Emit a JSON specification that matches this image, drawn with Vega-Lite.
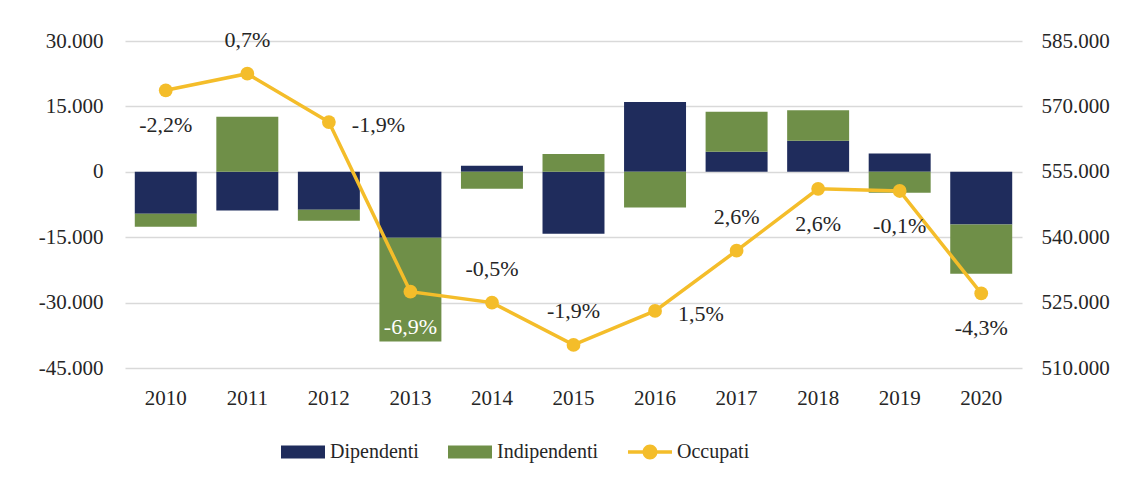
{
  "$schema": "https://vega.github.io/schema/vega-lite/v6.json",
  "width": 897,
  "height": 327,
  "autosize": "none",
  "padding": {"left": 125, "top": 41, "right": 114, "bottom": 117},
  "background": "white",
  "config": {
    "locale": {"number": {"decimal": ",", "thousands": ".", "grouping": [3], "currency": ["", " €"], "minus": "-"}},
    "font": "'Liberation Serif', 'Times New Roman', 'DejaVu Serif', serif",
    "view": {"stroke": null},
    "axis": {"labelFont": "'Liberation Serif', 'Times New Roman', 'DejaVu Serif', serif", "labelFontSize": 21, "labelColor": "#262626", "domain": false, "ticks": false, "title": null}
  },
  "datasets": {
    "bars": [
      {"year": "2010", "type": "Dipendenti", "value": -9600},
      {"year": "2010", "type": "Indipendenti", "value": -3000},
      {"year": "2011", "type": "Dipendenti", "value": -8900},
      {"year": "2011", "type": "Indipendenti", "value": 12600},
      {"year": "2012", "type": "Dipendenti", "value": -8700},
      {"year": "2012", "type": "Indipendenti", "value": -2500},
      {"year": "2013", "type": "Dipendenti", "value": -15100},
      {"year": "2013", "type": "Indipendenti", "value": -23800},
      {"year": "2014", "type": "Dipendenti", "value": 1400},
      {"year": "2014", "type": "Indipendenti", "value": -3900},
      {"year": "2015", "type": "Dipendenti", "value": -14200},
      {"year": "2015", "type": "Indipendenti", "value": 4100},
      {"year": "2016", "type": "Dipendenti", "value": 16000},
      {"year": "2016", "type": "Indipendenti", "value": -8200},
      {"year": "2017", "type": "Dipendenti", "value": 4600},
      {"year": "2017", "type": "Indipendenti", "value": 9200},
      {"year": "2018", "type": "Dipendenti", "value": 7100},
      {"year": "2018", "type": "Indipendenti", "value": 7000},
      {"year": "2019", "type": "Dipendenti", "value": 4200},
      {"year": "2019", "type": "Indipendenti", "value": -4800},
      {"year": "2020", "type": "Dipendenti", "value": -12100},
      {"year": "2020", "type": "Indipendenti", "value": -11300}
    ],
    "occ": [
      {"year": "2010", "occupati": 573700, "pct": "-2,2%"},
      {"year": "2011", "occupati": 577500, "pct": "0,7%"},
      {"year": "2012", "occupati": 566400, "pct": "-1,9%"},
      {"year": "2013", "occupati": 527500, "pct": "-6,9%"},
      {"year": "2014", "occupati": 525000, "pct": "-0,5%"},
      {"year": "2015", "occupati": 515300, "pct": "-1,9%"},
      {"year": "2016", "occupati": 523100, "pct": "1,5%"},
      {"year": "2017", "occupati": 536900, "pct": "2,6%"},
      {"year": "2018", "occupati": 551100, "pct": "2,6%"},
      {"year": "2019", "occupati": 550600, "pct": "-0,1%"},
      {"year": "2020", "occupati": 527100, "pct": "-4,3%"}
    ]
  },
  "encoding": {
    "x": {"field": "year", "type": "ordinal", "scale": {"paddingInner": 0.24, "paddingOuter": 0.12}, "axis": {"labelAngle": 0, "labelPadding": 19, "grid": false}}
  },
  "layer": [
    {
      "data": {"name": "bars"},
      "mark": {"type": "bar"},
      "encoding": {
        "y": {"field": "value", "type": "quantitative", "stack": "zero",
          "scale": {"domain": [-45000, 30000], "nice": false, "zero": false},
          "axis": {"orient": "left", "values": [-45000, -30000, -15000, 0, 15000, 30000], "format": ",.0f", "grid": true, "gridColor": "#D9D9D9", "gridWidth": 1.5, "labelPadding": 22}},
        "color": {"field": "type", "type": "nominal",
          "scale": {"domain": ["Dipendenti", "Indipendenti", "Occupati"], "range": ["#1F2C5C", "#6F8F48", "#F4BD2A"]},
          "legend": {
            "title": null, "orient": "none", "direction": "horizontal", "legendX": 156, "legendY": 389,
            "labelFont": "'Liberation Serif', 'Times New Roman', 'DejaVu Serif', serif", "labelFontSize": 20, "labelColor": "#262626", "labelOffset": 5,
            "columnPadding": 29, "symbolSize": 1936, "symbolStrokeWidth": 0,
            "encode": {"symbols": {"update": {
              "shape": {"signal": "datum.value === 'Occupati' ? 'M-1,-0.08H-0.3V0.08H-1Z M0.3,-0.08H1V0.08H0.3Z M0.34,0A0.34,0.34 0 1 1 -0.34,0A0.34,0.34 0 1 1 0.34,0Z' : 'M-1,-0.3H1V0.3H-1Z'"},
              "fill": {"signal": "datum.value === 'Occupati' ? '#F4BD2A' : datum.value === 'Dipendenti' ? '#1F2C5C' : '#6F8F48'"},
              "strokeWidth": {"value": 0}
            }}}
          }},
        "order": {"field": "type", "sort": "ascending"}
      }
    },
    {
      "data": {"name": "occ"},
      "layer": [
        {
          "mark": {"type": "line", "color": "#F4BD2A", "strokeWidth": 3.5, "point": {"filled": true, "size": 190, "color": "#F4BD2A"}},
          "encoding": {
            "y": {"field": "occupati", "type": "quantitative",
              "scale": {"domain": [510000, 585000], "nice": false, "zero": false},
              "axis": {"orient": "right", "values": [510000, 525000, 540000, 555000, 570000, 585000], "format": ",.0f", "grid": false, "labelPadding": 19}}
          }
        },
        {
          "transform": [{"filter": {"field": "year", "oneOf": ["2011", "2014", "2015", "2017"]}}],
          "mark": {"type": "text", "dy": -34, "fontSize": 22, "color": "#262626"},
          "encoding": {"y": {"field": "occupati", "type": "quantitative"}, "text": {"field": "pct"}}
        },
        {
          "transform": [{"filter": {"field": "year", "oneOf": ["2010", "2013", "2018", "2019", "2020"]}}],
          "mark": {"type": "text", "dy": 35, "fontSize": 22},
          "encoding": {"y": {"field": "occupati", "type": "quantitative"}, "text": {"field": "pct"},
            "color": {"condition": {"test": "datum.year === '2013'", "value": "white"}, "value": "#262626"}}
        },
        {
          "transform": [{"filter": {"field": "year", "oneOf": ["2012", "2016"]}}],
          "mark": {"type": "text", "dx": 23, "dy": 3, "align": "left", "fontSize": 22, "color": "#262626"},
          "encoding": {"y": {"field": "occupati", "type": "quantitative"}, "text": {"field": "pct"}}
        }
      ]
    }
  ],
  "resolve": {"scale": {"y": "independent"}}
}
